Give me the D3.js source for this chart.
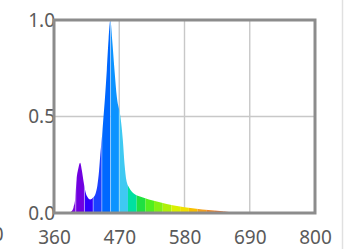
<!DOCTYPE html>
<meta charset="utf-8">
<style>
  body { margin: 0; background: #fff; }
  .tick text { font-family: "Noto Sans", sans-serif; font-size: 19px; fill: #5a5a5a; }
  .grid line { stroke: #c8c8c8; stroke-width: 1.4; }
  .frame { fill: none; stroke: #8c8c8c; stroke-width: 3; }
</style>
<svg width="347" height="249"></svg>
<script src="https://d3js.org/d3.v7.min.js"></script>
<script>
  // spectrum (wavelength nm, relative intensity)
  var wavelengths = [360, 385, 390, 393, 396, 398, 401, 404, 407, 410, 413, 416, 421, 426, 430, 433, 436, 438, 441, 443, 446, 449, 452, 455, 458, 462, 466, 472, 476, 479, 482, 487, 495, 505, 520, 540, 560, 580, 600, 620, 640, 655, 665, 800];
  var intensity   = [0, 0, 0.01, 0.03, 0.08, 0.17, 0.23, 0.26, 0.22, 0.16, 0.11, 0.085, 0.07, 0.08, 0.1, 0.14, 0.22, 0.3, 0.4, 0.48, 0.6, 0.74, 0.9, 1.0, 0.9, 0.74, 0.6, 0.5, 0.38, 0.25, 0.17, 0.13, 0.1, 0.085, 0.07, 0.055, 0.04, 0.03, 0.022, 0.015, 0.01, 0.005, 0, 0];

  var xTicks = [360, 470, 580, 690, 800];
  var yTicks = [0, 0.5, 1.0];

  // colour bands: 30 bins over 360-800
  var bandCount = 30;
  var colorStops = [370, 395, 404, 419, 433, 448, 463, 477, 492, 507, 521, 540, 565, 580, 594, 609, 630, 660];
  var colorValues = ["#8a30d0", "#7a00e0", "#7000e0", "#3000ff", "#1c40ff", "#0068ff", "#0c94ff", "#40c8f4", "#00e0a0", "#20e040", "#50ee20", "#90f010", "#d8f000", "#f0e000", "#f8c000", "#f0a020", "#e87a30", "#e06030"];

  var svg = d3.select("svg");
  var pl = 54, pr = 315, pt = 20, pb = 213;

  var x = d3.scaleLinear().domain([360, 800]).range([pl, pr]);
  var y = d3.scaleLinear().domain([0, 1]).range([pb, pt]);
  var color = d3.scaleLinear().domain(colorStops).range(colorValues).clamp(true);

  var data = wavelengths.map(function(w, i) { return { w: w, v: intensity[i] }; });

  // grid
  svg.append("g").attr("class", "grid")
    .selectAll("line").data(xTicks.slice(1, -1)).enter().append("line")
    .attr("x1", x).attr("x2", x).attr("y1", pt).attr("y2", pb);
  svg.append("g").attr("class", "grid")
    .selectAll("line").data([0.5]).enter().append("line")
    .attr("x1", pl).attr("x2", pr).attr("y1", y).attr("y2", y);

  var area = d3.area()
    .curve(d3.curveMonotoneX)
    .x(function(d) { return x(d.w); })
    .y0(pb)
    .y1(function(d) { return y(d.v); });

  svg.append("clipPath").attr("id", "spec")
    .append("path").datum(data).attr("d", area);

  var step = (800 - 360) / bandCount;
  var bands = d3.range(bandCount).map(function(k) {
    var lo = 360 + (k - 0.5) * step, hi = lo + step;
    return { lo: Math.max(360, lo), hi: Math.min(800, hi), c: 360 + k * step };
  });

  var g = svg.append("g").attr("clip-path", "url(#spec)");
  g.selectAll("rect").data(bands).enter().append("rect")
    .attr("x", function(d) { return x(d.lo); })
    .attr("width", function(d) { return x(d.hi) - x(d.lo); })
    .attr("y", pt).attr("height", pb - pt)
    .attr("fill", function(d) { return color(d.c); });
  g.selectAll("line").data(bands.slice(1, 9)).enter().append("line")
    .attr("x1", function(d) { return x(d.lo); })
    .attr("x2", function(d) { return x(d.lo); })
    .attr("y1", pt).attr("y2", pb)
    .attr("stroke", "#fff").attr("stroke-opacity", 0.55).attr("stroke-width", 0.8);

  // axes
  var xAxis = svg.append("g")
    .attr("transform", "translate(0," + pb + ")")
    .call(d3.axisBottom(x).tickValues(xTicks).tickSize(0).tickPadding(14));
  xAxis.select(".domain").remove();
  xAxis.selectAll("text").attr("dy", "0.9em");

  var yAxis = svg.append("g")
    .attr("transform", "translate(" + (pl + 1) + ",0)")
    .call(d3.axisLeft(y).tickValues(yTicks).tickFormat(d3.format(".1f")).tickSize(0).tickPadding(0));
  yAxis.select(".domain").remove();

  svg.append("rect").attr("class", "frame")
    .attr("x", pl).attr("y", pt)
    .attr("width", pr - pl).attr("height", pb - pt);

  // edge of the neighbouring panel
  svg.append("line")
    .attr("x1", 342.5).attr("x2", 342.5).attr("y1", 0).attr("y2", 249)
    .attr("stroke", "#e0e0e0").attr("stroke-width", 1.5);
  svg.append("text")
    .attr("x", 3.5).attr("y", 241).attr("text-anchor", "end")
    .attr("font-family", "Noto Sans, sans-serif").attr("font-size", 19).attr("fill", "#5a5a5a")
    .text("0");
</script>
